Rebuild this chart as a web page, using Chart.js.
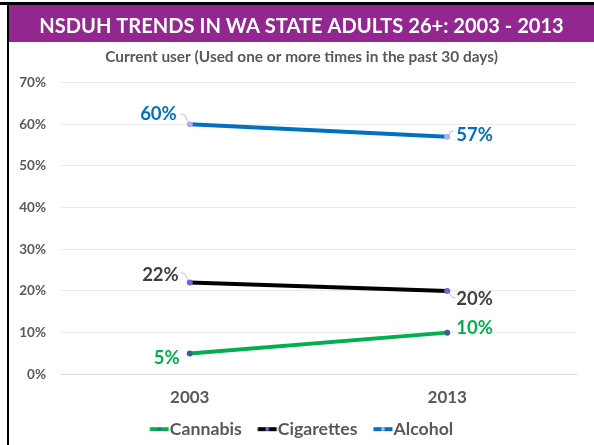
<!DOCTYPE html>
<html>
<head>
<meta charset="utf-8">
<script src="https://cdn.jsdelivr.net/npm/chart.js@4.4.1/dist/chart.umd.min.js"></script>
<style>
  html, body { margin: 0; padding: 0; background: #fff; }
  #wrap { width: 594px; height: 445px; position: relative; }
</style>
</head>
<body>
<div id="wrap"><canvas id="c" width="594" height="445"></canvas></div>
<script>
// ---- data ----
const categories = ['2003', '2013'];
const seriesNames = ['Cannabis', 'Cigarettes', 'Alcohol'];
const cannabis = [5, 10];
const cigarettes = [22, 20];
const alcohol = [60, 57];
const yTicks = [0, 10, 20, 30, 40, 50, 60, 70];
const titleText = 'NSDUH TRENDS IN WA STATE ADULTS 26+: 2003 - 2013';
const subtitleText = 'Current user (Used one or more times in the past 30 days)';

const FONT = 'Lato, "Open Sans", sans-serif';
const lineColors = ['#00B050', '#000000', '#0070C0'];
const pointColors = ['#3F5F8F', '#7B5FDB', '#B7ACE8'];
const labelColors = ['#00B050', '#404040', '#0070C0'];

// font size that makes a text span a target width
function fitSize(text, weight, target) {
  const ctx = document.createElement('canvas').getContext('2d');
  ctx.font = weight + ' 100px ' + FONT;
  return Math.round(100 * target / ctx.measureText(text).width * 10) / 10;
}
const titleSize = fitSize(titleText, 'bold', 524);
const subtitleSize = fitSize(subtitleText, 'bold', 392);
const legendSize = fitSize('Cannabis', 'bold', 72);

// legend marker: short thick line with a dot, drawn into a small canvas
const LEG_BOX = 20 - legendSize / 2;     // so that text starts ~1px after the line
function legendMarker(i) {
  const W = 40, H = 10;
  const cv = document.createElement('canvas');
  cv.width = W; cv.height = H;
  const g = cv.getContext('2d');
  const x0 = W / 2 - LEG_BOX / 2;
  g.strokeStyle = lineColors[i];
  g.lineWidth = 4;
  g.beginPath();
  g.moveTo(x0, H / 2);
  g.lineTo(x0 + 19, H / 2);
  g.stroke();
  g.fillStyle = pointColors[i];
  g.beginPath();
  g.arc(x0 + 9.5, H / 2, 2, 0, Math.PI * 2);
  g.fill();
  return cv;
}
const legendMarkers = [0, 1, 2].map(legendMarker);

// label placement: [side, dx, dy, leader]
const labelPlace = [
  [['left', -10, 5, false], ['right', 9, -5, false]],
  [['left', -11, -8, 'L'], ['right', 9, 8, 'RB']],
  [['left', -13, -10, 'L'], ['right', 9, -2, 'RT']]
];

const framePlugin = {
  id: 'frame',
  beforeDraw(chart) {
    const ctx = chart.ctx;
    ctx.save();
    ctx.fillStyle = '#fff';
    ctx.fillRect(0, 0, chart.width, chart.height);
    ctx.fillStyle = '#92278F';
    ctx.fillRect(9, 5, chart.width - 9, 37);
    ctx.fillStyle = '#000';
    ctx.fillRect(0, 2, chart.width, 3);
    ctx.fillRect(7, 2, 2, chart.height - 2);
    ctx.restore();
  }
};

const labelPlugin = {
  id: 'valueLabels',
  afterDatasetsDraw(chart) {
    const ctx = chart.ctx;
    ctx.save();
    ctx.font = 'bold 18.5px ' + FONT;
    ctx.textBaseline = 'middle';
    chart.data.datasets.forEach((ds, di) => {
      const meta = chart.getDatasetMeta(di);
      meta.data.forEach((pt, i) => {
        const [side, dx, dy, leader] = labelPlace[di][i];
        const txt = ds.data[i] + '%';
        if (leader) {
          ctx.strokeStyle = '#BFBFBF';
          ctx.lineWidth = 1;
          ctx.beginPath();
          if (leader === 'L') {
            ctx.moveTo(pt.x - 9, pt.y - 10);
            ctx.lineTo(pt.x - 5, pt.y - 9);
            ctx.lineTo(pt.x - 2, pt.y - 3);
          } else if (leader === 'RB') {
            ctx.moveTo(pt.x + 2, pt.y + 2);
            ctx.lineTo(pt.x + 5, pt.y + 6);
            ctx.lineTo(pt.x + 8, pt.y + 7);
          } else {
            ctx.moveTo(pt.x + 2, pt.y - 2);
            ctx.lineTo(pt.x + 3, pt.y - 5);
            ctx.lineTo(pt.x + 6, pt.y - 6);
          }
          ctx.stroke();
        }
        ctx.fillStyle = labelColors[di];
        ctx.textAlign = side === 'left' ? 'right' : 'left';
        ctx.fillText(txt, pt.x + dx, pt.y + dy);
      });
    });
    ctx.restore();
  }
};

const data = {
  labels: categories,
  datasets: [cannabis, cigarettes, alcohol].map((vals, i) => ({
    label: seriesNames[i],
    data: vals,
    borderColor: lineColors[i],
    backgroundColor: lineColors[i],
    borderWidth: 4,
    pointRadius: 3,
    pointBorderWidth: 0,
    pointBackgroundColor: pointColors[i],
    pointHoverRadius: 3,
    tension: 0
  }))
};

new Chart(document.getElementById('c'), {
  type: 'line',
  data,
  plugins: [framePlugin, labelPlugin],
  options: {
    responsive: false,
    animation: false,
    devicePixelRatio: 1,
    layout: { padding: { left: 9, right: 0, top: 0, bottom: -3 } },
    scales: {
      x: {
        offset: true,
        afterFit(scale) { scale.height = 30; },
        grid: { display: false, drawTicks: false },
        border: { display: true, color: '#D9D9D9', width: 1 },
        ticks: { color: '#595959', font: { family: FONT, size: 17, weight: 'bold' }, padding: 13 }
      },
      y: {
        min: 0, max: 70,
        afterBuildTicks(scale) { scale.ticks = yTicks.map(v => ({ value: v })); },
        afterFit(scale) { scale.width = 52; },
        grid: { color: '#EBEBEB', drawTicks: false },
        border: { display: false },
        ticks: {
          color: '#595959',
          font: { family: FONT, size: 13.5, weight: 'bold' },
          padding: 15,
          callback: v => v + '%'
        }
      },
      yR: {
        position: 'right',
        min: 0, max: 70,
        afterFit(scale) { scale.width = 18; },
        grid: { display: false, drawTicks: false },
        border: { display: false },
        ticks: { display: false }
      }
    },
    plugins: {
      title: {
        display: true,
        text: titleText,
        color: '#FFFFFF',
        font: { family: FONT, size: titleSize, weight: 'bold' },
        padding: { top: 14, bottom: 4 }
      },
      subtitle: {
        display: true,
        text: subtitleText,
        color: '#595959',
        font: { family: FONT, size: subtitleSize, weight: 'bold' },
        padding: { top: 6, bottom: 16 }
      },
      legend: {
        position: 'bottom',
        labels: {
          color: '#595959',
          font: { family: FONT, size: legendSize, weight: 'bold' },
          usePointStyle: true,
          pointStyleWidth: LEG_BOX,
          padding: 16,
          generateLabels(chart) {
            return chart.data.datasets.map((ds, i) => ({
              text: ds.label,
              fillStyle: lineColors[i],
              strokeStyle: lineColors[i],
              lineWidth: 0,
              pointStyle: legendMarkers[i],
              datasetIndex: i,
              fontColor: '#595959'
            }));
          }
        }
      },
      tooltip: { enabled: false }
    }
  }
});
</script>
</body>
</html>
